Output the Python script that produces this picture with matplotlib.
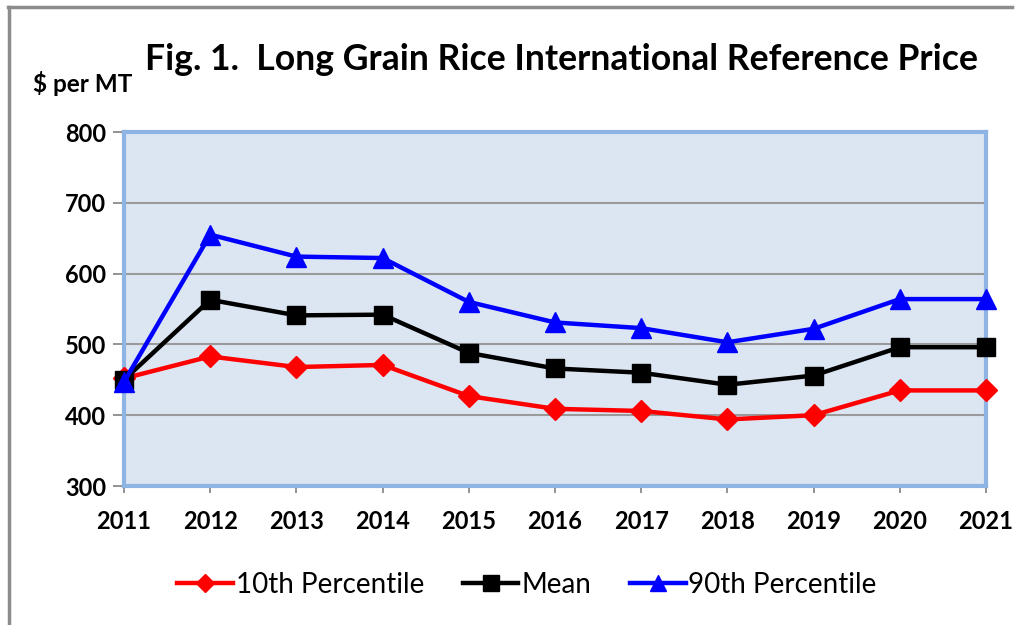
import matplotlib
matplotlib.use("Agg")
import matplotlib.pyplot as plt
from matplotlib.lines import Line2D

years = [2011, 2012, 2013, 2014, 2015, 2016, 2017, 2018, 2019, 2020, 2021]
p10 = [452, 483, 468, 471, 427, 409, 406, 394, 400, 435, 435]
mean = [450, 563, 541, 542, 488, 466, 460, 443, 456, 496, 496]
p90 = [447, 655, 624, 622, 560, 531, 523, 503, 522, 564, 564]
yticks = [300, 400, 500, 600, 700, 800]

plt.rcParams['font.family'] = ['Lato', 'DejaVu Sans']

fig = plt.figure(figsize=(10.2, 6.25), dpi=100)
fig.patch.set_facecolor('white')
# outer frame (top and left edges)
fig.add_artist(Line2D([9/1020, 9/1020], [0, 1 - 7/625], transform=fig.transFigure,
                      color='#8c8c8c', linewidth=2.5))
fig.add_artist(Line2D([8/1020, 1012/1020], [1 - 7/625, 1 - 7/625], transform=fig.transFigure,
                      color='#8c8c8c', linewidth=2.5))

ax = fig.add_axes([124/1020, 1 - 486/625, (986 - 124)/1020, (486 - 132)/625])
ax.set_facecolor('#DCE6F2')

ax.plot(years, p10, color='#FF0000', lw=3.2, marker='D', ms=11, label='10th Percentile', zorder=3, clip_on=False)
ax.plot(years, mean, color='#000000', lw=3.2, marker='s', ms=13, label='Mean', zorder=4, clip_on=False)
ax.plot(years, p90, color='#0000FF', lw=3.2, marker='^', ms=14, label='90th Percentile', zorder=5, clip_on=False)

ax.set_xlim(2011, 2021)
ax.set_ylim(300, 800)
ax.set_yticks(yticks)
ax.set_xticks(years)
ax.yaxis.grid(True, color='#9a9a9a', lw=1.5)
ax.set_axisbelow(True)
for s in ['left', 'right', 'top', 'bottom']:
    ax.spines[s].set_color('#8EB4E3')
    ax.spines[s].set_linewidth(3)
ax.axhline(300, color='#9a9a9a', lw=1.5, zorder=2)
ax.tick_params(axis='y', length=8, width=1.2, color='#808080', labelsize=17, pad=5)
ax.tick_params(axis='x', length=5, width=1.2, color='#808080', labelsize=17, pad=12)
for lbl in ax.get_xticklabels() + ax.get_yticklabels():
    lbl.set_fontweight('bold')

fig.text(145/1020, 1 - 60/625, 'Fig. 1.  Long Grain Rice International Reference Price',
         fontsize=25.6, fontweight='bold', va='center', ha='left')
fig.text(33/1020, 1 - 83/625, '$ per MT', fontsize=17.5, fontweight='bold', va='center', ha='left')

leg = fig.legend(loc='center', bbox_to_anchor=(527/1020, 1 - 585/625), ncol=3, frameon=False,
                 fontsize=20, handlelength=2.0, handletextpad=0.1, columnspacing=1.4,
                 markerscale=0.85)

fig.savefig('out.png', dpi=100)
